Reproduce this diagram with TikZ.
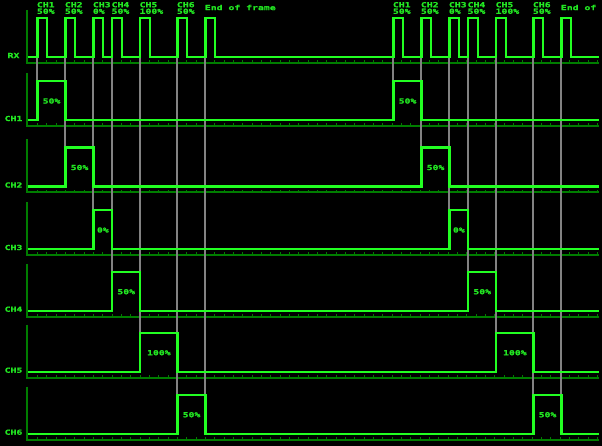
\documentclass[tikz,border=0pt]{standalone}
\usepackage{fontspec}
\newfontfamily\pix{DejaVu Sans Mono}[FakeStretch=1.4,BoldFeatures={FakeBold=1.2}]
\definecolor{trace}{RGB}{34,255,34}
\definecolor{txt}{RGB}{34,230,34}
\definecolor{axisc}{RGB}{0,125,0}
\definecolor{gridc}{RGB}{130,130,130}
\begin{document}
\begin{tikzpicture}[x=1pt,y=-1pt,
  tr/.style={draw=trace,line width=2.3pt,line join=miter},
  ax/.style={draw=axisc,line width=2pt},
  tk/.style={draw=axisc,line width=1pt},
  gl/.style={draw=gridc,line width=2pt},
  lbl/.style={text=txt,font=\pix\bfseries\fontsize{7}{7}\selectfont,inner sep=0pt}]
\useasboundingbox (0,0) rectangle (602,446);
\fill[black] (0,0) rectangle (602,446);
\clip (0,0) rectangle (602,446);
% axes and ticks
\foreach \b in {57,120,186.5,249,310.7,371.7,433.7}{
  \draw[ax] (26.5,\b-47) -- (26.5,\b+6) -- (599,\b+6);
  \foreach \k in {0,...,60}{
    \draw[tk] ({37.5+9.333*\k},\b+6) -- ({37.5+9.333*\k},\b+3.2);
  }
}
% gray marker lines
\foreach \f in {0,356}{
  \foreach \x/\e in {37.5/120,65.5/186.5,93.5/249,112.2/310.7,140.2/371.7,177.5/433.7,205.5/433.7}{
    \draw[gl] (\x+\f-0.6,57) -- (\x+\f-0.6,\e);
  }
}
% RX trace
\draw[tr] (27.5,57) \foreach \x in {37.5,65.5,93.5,112.2,140.2,177.5,205.5,393.5,421.5,449.5,468.2,496.2,533.5,561.5}{
  -- (\x,57) -- (\x,18) -- (\x+9.5,18) -- (\x+9.5,57)} -- (599,57);
\node[lbl] (labRX) at (13.5,55.5) {RX};
% channel traces and labels
\foreach \k/\b/\s/\e/\v in {1/120/37.5/65.5/50, 2/186.5/65.5/93.5/50, 3/249/93.5/112.2/0, 4/310.7/112.2/140.2/50, 5/371.7/140.2/177.5/100, 6/433.7/177.5/205.5/50}{
  \draw[tr] (27.5,\b) -- (\s,\b) -- (\s,\b-39) -- (\e,\b-39) -- (\e,\b)
    -- (\s+356,\b) -- (\s+356,\b-39) -- (\e+356,\b-39) -- (\e+356,\b) -- (599,\b);
  \node[lbl] (lab\k) at (13.5,\b-1.5) {CH\k};
  \node[lbl] (pa\k) at ({(\s+\e)/2},\b-19) {\v\%};
  \node[lbl] (pb\k) at ({(\s+\e)/2+356},\b-19) {\v\%};
  \node[lbl,anchor=west] (ta\k) at (\s-0.8,4.7) {CH\k};
  \node[lbl,anchor=west] (va\k) at (\s-0.8,11.3) {\v\%};
  \node[lbl,anchor=west] (tb\k) at (\s+356-0.8,4.7) {CH\k};
  \node[lbl,anchor=west] (vb\k) at (\s+356-0.8,11.3) {\v\%};
}
\node[lbl,anchor=west] (enda) at (204.7,7.5) {End of frame};
\node[lbl,anchor=west] (endb) at (560.7,7.5) {End of frame};
\end{tikzpicture}
\end{document}
